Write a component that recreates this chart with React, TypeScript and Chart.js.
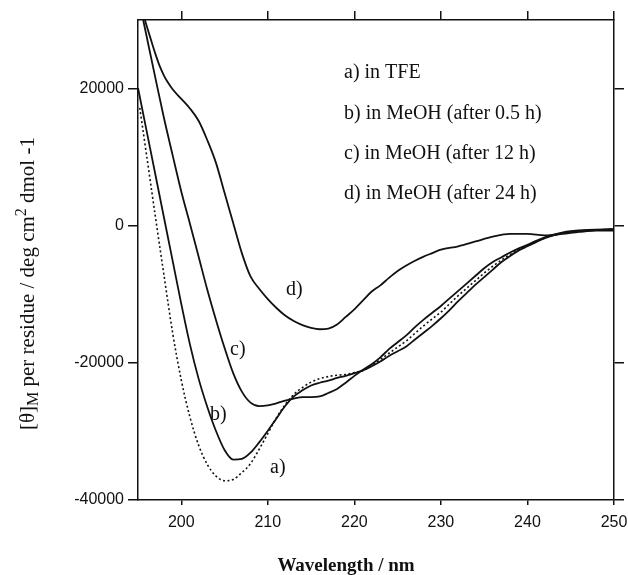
import React, { useEffect, useRef } from "react";
import { Chart, registerables } from "chart.js";

Chart.register(...registerables);

// ---- data ----
const xTickValues = [200, 210, 220, 230, 240, 250];
const yLeftTickValues = [-40000, -20000, 0, 20000];
const yRightTickValues = [-40000, -20000, 0, 20000];

const legendLines = [
  "a) in TFE",
  "b) in MeOH (after 0.5 h)",
  "c) in MeOH (after 12 h)",
  "d) in MeOH (after 24 h)",
];
const curveLabels = ["a)", "b)", "c)", "d)"];

// a) in TFE (dotted)
const aX = [195.2, 196, 197, 198, 199, 200, 201, 202, 203, 204, 205, 206, 207, 208, 209, 210, 211, 212, 213, 214, 215, 216, 217, 218, 219, 220, 221, 222, 223, 224, 225, 226, 227, 228, 229, 230, 231, 232, 233, 234, 235, 236, 237, 238, 239, 240, 241, 242, 243, 244, 245, 247, 250];
const aY = [17200, 10200, 1400, -7200, -15600, -22500, -27900, -32000, -34800, -36500, -37200, -37000, -36000, -34700, -32600, -30300, -28000, -26100, -24600, -23600, -22800, -22300, -22000, -21800, -21700, -21400, -21100, -20400, -19500, -18600, -17700, -16800, -15700, -14600, -13600, -12600, -11400, -10200, -9100, -8000, -6900, -5900, -5000, -4200, -3500, -2900, -2300, -1800, -1400, -1100, -900, -700, -500];

// b) in MeOH after 0.5 h
const bX = [195, 196, 197, 198, 199, 200, 201, 202, 203, 204, 205, 206, 207, 208, 209, 210, 211, 212, 213, 214, 215, 216, 217, 218, 219, 220, 221, 222, 223, 224, 225, 226, 227, 228, 229, 230, 231, 232, 233, 234, 235, 236, 237, 238, 239, 240, 241, 242, 243, 244, 245, 247, 250];
const bY = [20100, 13800, 7500, 1200, -5100, -11400, -17300, -22300, -26400, -29900, -32700, -34100, -34000, -33100, -31600, -29900, -28100, -26300, -24900, -24000, -23300, -22900, -22600, -22200, -21900, -21500, -21100, -20500, -19800, -19000, -18300, -17600, -16600, -15600, -14600, -13500, -12300, -11000, -9800, -8600, -7500, -6400, -5300, -4400, -3600, -3000, -2400, -1800, -1400, -1100, -900, -700, -500];

// c) in MeOH after 12 h
const cX = [195.6, 196, 197, 198, 199, 200, 201, 202, 203, 204, 205, 206, 207, 208, 209, 210, 211, 212, 213, 214, 215, 216, 217, 218, 219, 220, 221, 222, 223, 224, 225, 226, 227, 228, 229, 230, 231, 232, 233, 234, 235, 236, 237, 238, 239, 240, 241, 242, 243, 244, 245, 247, 250];
const cY = [30000, 27600, 21600, 15700, 10300, 5000, 300, -4500, -9300, -13700, -17800, -21500, -24200, -25800, -26300, -26200, -25900, -25500, -25200, -25000, -25000, -24900, -24400, -23800, -22900, -21900, -21000, -20200, -19200, -18000, -17000, -16000, -14800, -13700, -12700, -11700, -10600, -9500, -8400, -7300, -6200, -5300, -4600, -3900, -3300, -2800, -2200, -1700, -1300, -1000, -800, -600, -500];

// d) in MeOH after 24 h
const dX = [195.8, 196.5, 197, 197.5, 198, 198.5, 199, 200, 201, 202, 203, 204, 205, 206, 207, 208, 209, 210, 211, 212, 213, 214, 215, 216, 217, 218, 219, 220, 221, 222, 223, 224, 225, 226, 227, 228, 229, 230, 232, 234, 236, 238, 240, 242, 244, 246, 248, 250];
const dY = [30000, 27100, 25100, 23300, 21900, 20800, 19900, 18500, 17100, 15300, 12500, 9200, 4800, 400, -4000, -7400, -9200, -10700, -12000, -13100, -13900, -14500, -14900, -15100, -15000, -14400, -13300, -12200, -10900, -9600, -8700, -7600, -6600, -5800, -5100, -4500, -4000, -3500, -3000, -2300, -1600, -1200, -1200, -1400, -1200, -900, -700, -700];

const SERIF = "'Liberation Serif', 'Times New Roman', serif";
const SANS = "'Liberation Sans', Arial, sans-serif";
const INK = "#111";

function pts(xs: number[], ys: number[]) {
  return xs.map((x, i) => ({ x, y: ys[i] }));
}

export default function App() {
  const ref = useRef<HTMLCanvasElement | null>(null);

  useEffect(() => {
    const canvas = ref.current;
    if (!canvas) return;

    const textPlugin = {
      id: "textPlugin",
      afterDraw(chart: any) {
        const ctx = chart.ctx as CanvasRenderingContext2D;
        ctx.save();
        ctx.fillStyle = INK;
        ctx.textBaseline = "alphabetic";
        ctx.textAlign = "left";

        // legend text
        ctx.font = `20px ${SERIF}`;
        const legendBase = [78, 119, 159, 199];
        legendLines.forEach((t, i) => ctx.fillText(t, 344, legendBase[i]));

        // curve labels
        const labelPos = [
          [270, 473],
          [210, 420],
          [230, 355],
          [286, 295],
        ];
        curveLabels.forEach((t, i) => ctx.fillText(t, labelPos[i][0], labelPos[i][1]));

        // x title
        ctx.font = `bold 19px ${SERIF}`;
        ctx.textAlign = "center";
        ctx.fillText("Wavelength / nm", 346, 571);

        // y title (rotated, with sub/superscript)
        ctx.textAlign = "left";
        ctx.translate(34, 430);
        ctx.rotate(-Math.PI / 2);
        const parts = [
          { t: "[θ]", size: 21, dy: 0 },
          { t: "M", size: 16, dy: 4 },
          { t: " per residue / deg cm", size: 21, dy: 0 },
          { t: "2", size: 16, dy: -8 },
          { t: " dmol -1", size: 21, dy: 0 },
        ];
        let x = 0;
        for (const p of parts) {
          ctx.font = `${p.size}px ${SERIF}`;
          ctx.fillText(p.t, x, p.dy);
          x += ctx.measureText(p.t).width;
        }
        ctx.restore();
      },
    };

    const lineBase = {
      borderColor: INK,
      borderWidth: 1.8,
      pointRadius: 0,
      fill: false,
      cubicInterpolationMode: "monotone" as const,
    };

    const gridCommon = {
      drawOnChartArea: false,
      drawTicks: true,
      color: INK,
      lineWidth: 1.5,
    };
    const borderCommon = { display: true, color: INK, width: 1.5 };

    const chart = new Chart(canvas, {
      type: "line",
      data: {
        datasets: [
          { ...lineBase, label: "a", data: pts(aX, aY), borderDash: [2, 2.5], borderWidth: 1.6 },
          { ...lineBase, label: "b", data: pts(bX, bY) },
          { ...lineBase, label: "c", data: pts(cX, cY) },
          { ...lineBase, label: "d", data: pts(dX, dY) },
        ],
      },
      options: {
        responsive: false,
        animation: false,
        devicePixelRatio: 1,
        layout: { padding: 0 },
        plugins: { legend: { display: false }, tooltip: { enabled: false }, title: { display: false } },
        scales: {
          x: {
            type: "linear",
            axis: "x",
            position: "bottom",
            min: 195,
            max: 250,
            afterBuildTicks: (s: any) => {
              s.ticks = xTickValues.map((v) => ({ value: v }));
            },
            ticks: {
              callback: (v: any) => String(v),
              font: { family: SANS, size: 16 },
              color: INK,
              padding: 8,
              maxRotation: 0,
              autoSkip: false,
            },
            grid: { ...gridCommon, tickLength: 5 },
            border: borderCommon,
            afterFit: (s: any) => {
              s.height = 75;
              s.paddingLeft = 0;
              s.paddingRight = 0;
            },
          },
          x2: {
            type: "linear",
            axis: "x",
            position: "top",
            min: 195,
            max: 250,
            afterBuildTicks: (s: any) => {
              s.ticks = xTickValues.map((v) => ({ value: v }));
            },
            ticks: { display: false },
            grid: { ...gridCommon, tickLength: 9 },
            border: borderCommon,
            afterFit: (s: any) => {
              s.height = 20;
              s.paddingLeft = 0;
              s.paddingRight = 0;
            },
          },
          y: {
            type: "linear",
            axis: "y",
            position: "left",
            min: -40000,
            max: 30000,
            afterBuildTicks: (s: any) => {
              s.ticks = yLeftTickValues.map((v) => ({ value: v }));
            },
            ticks: {
              callback: (v: any) => String(v),
              font: { family: SANS, size: 16 },
              color: INK,
              padding: 4,
              autoSkip: false,
            },
            grid: { ...gridCommon, tickLength: 10 },
            border: borderCommon,
            afterFit: (s: any) => {
              s.width = 138;
              s.paddingTop = 0;
              s.paddingBottom = 0;
            },
          },
          y2: {
            type: "linear",
            axis: "y",
            position: "right",
            min: -40000,
            max: 30000,
            afterBuildTicks: (s: any) => {
              s.ticks = yRightTickValues.map((v) => ({ value: v }));
            },
            ticks: { display: false },
            grid: { ...gridCommon, tickLength: 10 },
            border: borderCommon,
            afterFit: (s: any) => {
              s.width = 14;
              s.paddingTop = 0;
              s.paddingBottom = 0;
            },
          },
        },
      } as any,
      plugins: [textPlugin],
    });

    return () => chart.destroy();
  }, []);

  return (
    <div style={{ position: "fixed", left: 0, top: 0, width: 628, height: 575, background: "#fff" }}>
      <canvas ref={ref} width={628} height={575} style={{ display: "block" }} />
    </div>
  );
}
